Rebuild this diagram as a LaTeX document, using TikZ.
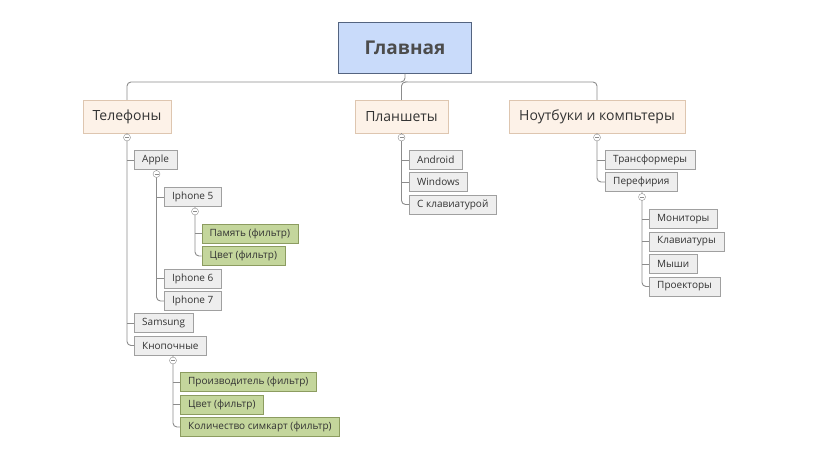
\documentclass[tikz,border=0pt]{standalone}
\usepackage{fontspec}
\setmainfont{Open Sans}
\definecolor{mainfill}{RGB}{201,219,250}
\definecolor{maindraw}{RGB}{84,100,128}
\definecolor{topfill}{RGB}{253,242,232}
\definecolor{topdraw}{RGB}{222,198,176}
\definecolor{leaffill}{RGB}{238,238,238}
\definecolor{leafdraw}{RGB}{160,160,160}
\definecolor{filtfill}{RGB}{196,214,156}
\definecolor{filtdraw}{RGB}{140,156,96}
\definecolor{linecol}{RGB}{140,140,140}
\definecolor{textcol}{RGB}{51,51,51}

\begin{document}
\begin{tikzpicture}[x=1pt,y=-1pt,
   mainbox/.style={draw=maindraw,fill=mainfill,line width=1pt,minimum width=133pt,minimum height=51pt,
     font=\fontsize{19}{22}\selectfont\bfseries,text=black!70},
   topbox/.style={draw=topdraw,fill=topfill,minimum height=33pt,inner xsep=10pt,
     font=\fontsize{14}{16}\selectfont,text=textcol},
   leaf/.style={draw=leafdraw,fill=leaffill,anchor=west,minimum height=19pt,inner xsep=8pt,
     font=\fontsize{10}{12}\selectfont,text=textcol},
   filt/.style={leaf,draw=filtdraw,fill=filtfill},
   link/.style={draw=linecol,line width=0.9pt,rounded corners=4pt},
   knob/.style={circle,draw=linecol,fill=white,inner sep=0pt,minimum size=7pt,
     path picture={\draw[linecol,line width=0.6pt] ([xshift=-2pt]path picture bounding box.center) -- ([xshift=2pt]path picture bounding box.center);}}]
   \useasboundingbox (0,0) rectangle (818,455);

   % top levels
   \node[mainbox] (main) at (405,47.5) {Главная};
   \node[topbox] (phones) at (127,116.5) {Телефоны};
   \node[topbox] (tabs) at (401.5,116.5) {Планшеты};
   \node[topbox] (notes) at (597,116.5) {Ноутбуки и компьтеры};
   \draw[link] (main.south) -- (405,82) -| (phones.north);
   \draw[link] (405,82) -| (notes.north);
   \draw[link] (405,82) -- (401.5,82) -- (tabs.north);

   % Телефоны
   \node[leaf] (apple) at (134,160) {Apple};
   \node[leaf] (ip5) at (164,197) {Iphone 5};
   \node[filt] (mem) at (201.5,233.5) {Память (фильтр)};
   \node[filt] (col1) at (201.5,256) {Цвет (фильтр)};
   \node[leaf] (ip6) at (164,278.5) {Iphone 6};
   \node[leaf] (ip7) at (164,301) {Iphone 7};
   \node[leaf] (sams) at (134,323) {Samsung};
   \node[leaf] (btn) at (134,345.5) {Кнопочные};
   \node[filt] (prod) at (180,382) {Производитель (фильтр)};
   \node[filt] (col2) at (180,404.5) {Цвет (фильтр)};
   \node[filt] (sim) at (180,427) {Количество симкарт (фильтр)};

   % Планшеты
   \node[leaf] (andr) at (409,160) {Android};
   \node[leaf] (win) at (409,182) {Windows};
   \node[leaf] (keyb) at (409,204.5) {С клавиатурой};

   % Ноутбуки
   \node[leaf] (trans) at (605,160) {Трансформеры};
   \node[leaf] (perif) at (605,182) {Перефирия};
   \node[leaf] (mon) at (649,219) {Мониторы};
   \node[leaf] (kbd) at (649,241.5) {Клавиатуры};
   \node[leaf] (mice) at (649,264) {Мыши};
   \node[leaf] (proj) at (649,286.5) {Проекторы};

   % branches
   \draw[link] (phones.south) |- (btn.west);
   \draw[link] (127,160) -- (apple.west) (127,323) -- (sams.west);
   \draw[link] (156.5,170) |- (ip7.west);
   \draw[link] (156.5,197) -- (ip5.west) (156.5,278.5) -- (ip6.west);
   \draw[link] (195,207) |- (col1.west);
   \draw[link] (195,233.5) -- (mem.west);
   \draw[link] (173,355) |- (sim.west);
   \draw[link] (173,382) -- (prod.west) (173,404.5) -- (col2.west);
   \draw[link] (tabs.south) |- (keyb.west);
   \draw[link] (401.5,160) -- (andr.west) (401.5,182) -- (win.west);
   \draw[link] (notes.south) |- (perif.west);
   \draw[link] (597,160) -- (trans.west);
   \draw[link] (642,192) |- (proj.west);
   \draw[link] (642,219) -- (mon.west) (642,241.5) -- (kbd.west) (642,264) -- (mice.west);

   % knobs
   \node[knob] (k1) at (127,137.5) {};
   \node[knob] (k2) at (156.5,174) {};
   \node[knob] (k3) at (195,211.5) {};
   \node[knob] (k4) at (173,360.5) {};
   \node[knob] (k5) at (401.5,137.5) {};
   \node[knob] (k6) at (597,137.5) {};
   \node[knob] (k7) at (642,197) {};
\end{tikzpicture}
\end{document}
